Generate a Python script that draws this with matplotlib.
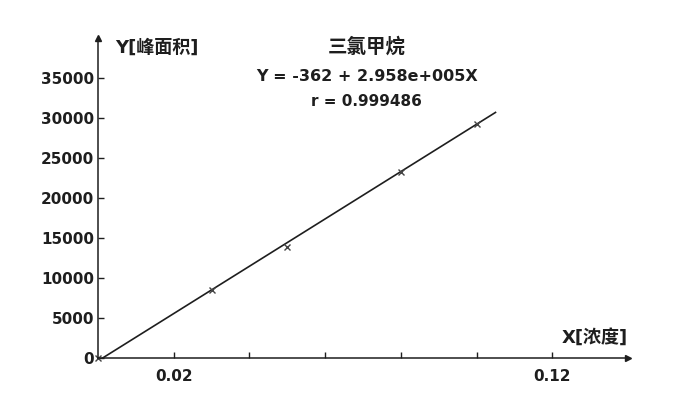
import matplotlib
matplotlib.use("Agg")
import matplotlib.pyplot as plt
import numpy as np

plt.rcParams['font.family'] = ['DejaVu Sans', 'Noto Sans CJK SC']

# standard points (concentration, peak area)
conc = [0.0, 0.03, 0.05, 0.08, 0.10]
area = [0, 8500, 13875, 23250, 29250]

# fit result shown on chart
intercept = -362
slope = 2.958e5
r_value = 0.999486
fit_range = [0.0, 0.105]

yticks = [0, 5000, 10000, 15000, 20000, 25000, 30000, 35000]
xticks = [0.02, 0.04, 0.06, 0.08, 0.10, 0.12]
xtick_labels = ['0.02', '', '', '', '', '0.12']

ink = '#1e1e1e'

fig = plt.figure(figsize=(6.88, 3.94), dpi=100)
ax = fig.add_axes([98/688, 36/394, 530/688, 320/394])

xs = np.array(fit_range)
ax.plot(xs, intercept + slope*xs, color=ink, lw=1.2)
ax.plot(conc, area, 'x', color='#444444', ms=5, mew=1.0, clip_on=False)

ax.set_xlim(0, 0.14)
ax.set_ylim(0, 40000)
ax.set_xticks(xticks)
ax.set_xticklabels(xtick_labels)
ax.set_yticks(yticks)
ax.set_yticklabels([str(v) for v in yticks])

for s in ['top', 'right']:
    ax.spines[s].set_visible(False)
for s in ['left', 'bottom']:
    ax.spines[s].set_color(ink)
    ax.spines[s].set_linewidth(1.1)

ax.tick_params(axis='both', direction='in', length=4, width=1, colors=ink,
               labelsize=11)
ax.tick_params(axis='y', pad=3)
ax.tick_params(axis='x', pad=8)
for lab in ax.get_xticklabels() + ax.get_yticklabels():
    lab.set_fontweight('bold')
    lab.set_color(ink)

# axis arrows
ax.plot(1, 0, '>', color=ink, ms=5, transform=ax.transAxes, clip_on=False)
ax.plot(0, 1, '^', color=ink, ms=5, transform=ax.transAxes, clip_on=False)

ax.text(0.032, 0.969, 'Y[峰面积]', transform=ax.transAxes, fontsize=13,
        fontweight='bold', color=ink, ha='left', va='center')
ax.text(1.0, 0.0625, 'X[浓度]', transform=ax.transAxes, fontsize=13,
        fontweight='bold', color=ink, ha='right', va='center')

ax.text(0.507, 0.972, '三氯甲烷', transform=ax.transAxes, fontsize=14,
        fontweight='bold', color=ink, ha='center', va='center')
ax.text(0.507, 0.881, 'Y = %d + %.3fe+005X' % (intercept, slope/1e5),
        transform=ax.transAxes, fontsize=11.5, fontweight='bold', color=ink,
        ha='center', va='center')
ax.text(0.507, 0.803, 'r = %.6f' % r_value, transform=ax.transAxes,
        fontsize=11, fontweight='bold', color=ink, ha='center', va='center')

fig.savefig('out.png', dpi=100, facecolor='white')
